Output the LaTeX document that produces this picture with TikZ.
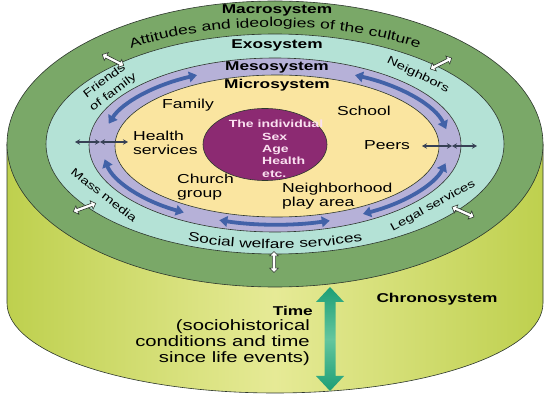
\documentclass[tikz,border=0pt]{standalone}
\usepackage{fontspec}
\setmainfont{Liberation Sans}[FakeStretch=1.35]
\usetikzlibrary{arrows.meta,decorations.text,shapes.arrows}

\definecolor{macro}{RGB}{122,168,104}
\definecolor{exo}{RGB}{180,226,214}
\definecolor{meso}{RGB}{182,177,216}
\definecolor{micro}{RGB}{250,229,160}
\definecolor{indiv}{RGB}{140,42,114}
\definecolor{indivtext}{RGB}{250,224,240}
\definecolor{side}{RGB}{190,208,78}
\definecolor{sidelight}{RGB}{230,234,150}
\definecolor{ringblue}{RGB}{66,98,168}
\definecolor{linkgrey}{RGB}{55,65,85}
\definecolor{tealdark}{RGB}{28,158,118}
\definecolor{teallight}{RGB}{100,198,158}
\definecolor{edge}{RGB}{45,55,45}

\begin{document}
\begin{tikzpicture}[x=1pt, y=-1pt,
  rim/.style={draw=edge, line width=0.6pt},
  syslabel/.style={font=\fontsize{12.8}{14}\selectfont\bfseries},
  place/.style={font=\fontsize{13}{13.5}\selectfont, align=left, inner sep=0pt},
  outer/.style={font=\fontsize{11}{14.5}\selectfont, align=center, inner sep=0pt},
  flow/.style={draw=ringblue, line width=3.8pt, >={Triangle[width=10.5pt,length=8pt]}},
  link/.style={draw=linkgrey, line width=1.4pt, >={Stealth[width=5.5pt,length=5pt]}},
  hollow/.style={shape=double arrow, draw=edge, fill=white, line width=0.6pt, inner sep=1.3pt,
    minimum height=24pt, double arrow head extend=2.8pt}]
\fill[white] (0,0) rectangle (547,398);
\useasboundingbox (0,0) rectangle (547,398);

% side of the cylinder
\shade[left color=side, right color=side, middle color=sidelight]
  (7,144) -- (7,303) arc[start angle=180, end angle=0, x radius=268, y radius=90] -- (543,144) -- cycle;
\draw[rim] (7,144) -- (7,303) arc[start angle=180, end angle=0, x radius=268, y radius=90] -- (543,144);

% the nested systems
\filldraw[rim, fill=macro] (275,144) ellipse [x radius=268, y radius=143];
\filldraw[rim, fill=exo] (275,144) ellipse [x radius=229, y radius=110];
\filldraw[rim, fill=meso] (275,145) ellipse [x radius=186, y radius=87];
\filldraw[rim, fill=micro] (277,146) ellipse [x radius=162, y radius=71];
\filldraw[rim, fill=indiv] (265,144.5) ellipse [x radius=62, y radius=36];

% curved texts
\path[decorate, decoration={text along path, text align=center,
  text={|\fontsize{13}{14}\selectfont|Attitudes and ideologies of the culture}}]
  (38.2,104.6) arc[start angle=200, end angle=340, x radius=252, y radius=118];
\path[decorate, decoration={text along path, text align=center,
  text={|\fontsize{12.8}{14}\selectfont|Social welfare services}}]
  (75.8,196.5) arc[start angle=150, end angle=30, x radius=230, y radius=104];

% labels
\node[syslabel] (macrolabel) at (277,10) {Macrosystem};
\node[syslabel] (exolabel) at (277,45) {Exosystem};
\node[syslabel] (mesolabel) at (277,67) {Mesosystem};
\node[syslabel] (microlabel) at (277,85) {Microsystem};
\node[syslabel] (chronolabel) at (437,299) {Chronosystem};

\node[outer, rotate=37] (friends) at (109,87) {Friends\\of family};
\node[outer, rotate=-26] (neighbors) at (418,75) {Neighbors};
\node[outer, rotate=-38] (media) at (104,195) {Mass media};
\node[outer, rotate=29] (legal) at (433,206) {Legal services};

\node[place] (family) at (188,105) {Family};
\node[place] (school) at (364,111) {School};
\node[place, anchor=west] (health) at (133,143) {Health\\services};
\node[place] (peers) at (387,145) {Peers};
\node[place, anchor=west] (church) at (177,187) {Church\\group};
\node[place, anchor=west] (hood) at (282,196) {Neighborhood\\play area};

\node[font=\fontsize{10.4}{12.3}\selectfont\bfseries, text=indivtext] (self) at (276,124) {The individual};
\node[font=\fontsize{10.4}{12.3}\selectfont\bfseries, text=indivtext, align=left, anchor=west, inner sep=0pt]
  (traits) at (262,155) {Sex\\Age\\Health\\etc.};

% arrows in the mesosystem
\draw[flow, <->] (276,145.5) ++(196:174 and 79) arc[start angle=196, end angle=243, x radius=174, y radius=79];
\draw[flow, <->] (276,145.5) ++(297:174 and 79) arc[start angle=297, end angle=348, x radius=174, y radius=79];
\draw[flow, <->] (276,145.5) ++(170:174 and 79) arc[start angle=170, end angle=122, x radius=174, y radius=79];
\draw[flow, <->] (276,145.5) ++(109:174 and 79) arc[start angle=109, end angle=72, x radius=174, y radius=79];
\draw[flow, <->] (276,145.5) ++(60:174 and 79) arc[start angle=60, end angle=13, x radius=174, y radius=79];

\draw[link, <->] (75,142) -- (100,142);
\draw[link, <->] (100,142) -- (128,142);
\draw[link, <->] (422,146) -- (452,146);
\draw[link, <->] (452,146) -- (477,146);

% open arrows across the exosystem border
\node[hollow, rotate=-27] (up1) at (113,60) {};
\node[hollow, rotate=27] (up2) at (441,63.5) {};
\node[hollow, rotate=20] (low1) at (84.5,207.5) {};
\node[hollow, rotate=-24] (low2) at (463,212) {};
\node[hollow, rotate=90, minimum height=21pt] (down) at (274,262) {};

% time
\shade[top color=tealdark, bottom color=tealdark, middle color=teallight]
  (330,287) -- (344,302) -- (335.5,302) -- (335.5,376) -- (344,376) -- (330,391)
  -- (316,376) -- (324.5,376) -- (324.5,302) -- (316,302) -- cycle;
\node[syslabel, anchor=east, inner sep=0pt] (time) at (313,311) {Time};
\node[font=\fontsize{15}{16}\selectfont, align=right, anchor=east, inner sep=0pt]
  (span) at (310,343) {(sociohistorical\\conditions and time\\since life events)};
\end{tikzpicture}
\end{document}
